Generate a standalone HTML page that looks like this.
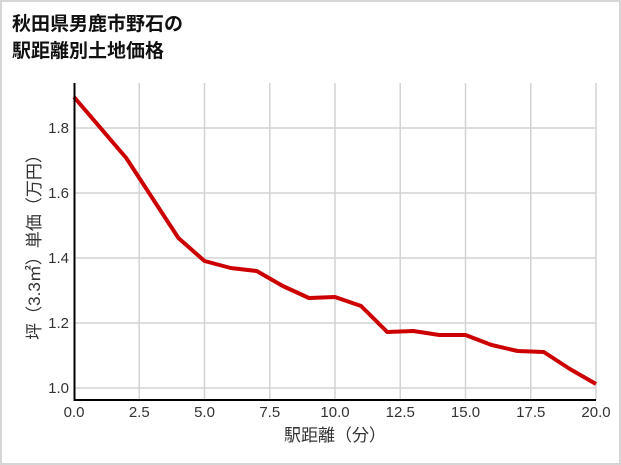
<!DOCTYPE html>
<html><head><meta charset="utf-8"><style>
body{margin:0;background:#fff}
svg{display:block}
text{font-family:"Liberation Sans","Noto Sans CJK JP",sans-serif}
</style></head><body>
<svg width="621" height="465" viewBox="0 0 621 465" xmlns="http://www.w3.org/2000/svg">
<rect x="1" y="1" width="619" height="463" fill="#fff" stroke="#d6d6d6" stroke-width="2"/>
<text x="12" y="30" font-size="19" font-weight="bold" fill="#111">秋田県男鹿市野石の</text>
<text x="12" y="57" font-size="19" font-weight="bold" fill="#111">駅距離別土地価格</text>
<g stroke="#d3d3d3" stroke-width="1.5">
<line x1="139.25" y1="83" x2="139.25" y2="400"/>
<line x1="204.5" y1="83" x2="204.5" y2="400"/>
<line x1="269.75" y1="83" x2="269.75" y2="400"/>
<line x1="335" y1="83" x2="335" y2="400"/>
<line x1="400.25" y1="83" x2="400.25" y2="400"/>
<line x1="465.5" y1="83" x2="465.5" y2="400"/>
<line x1="530.75" y1="83" x2="530.75" y2="400"/>
<line x1="596" y1="83" x2="596" y2="400"/>
<line x1="74" y1="128" x2="596" y2="128"/>
<line x1="74" y1="193" x2="596" y2="193"/>
<line x1="74" y1="258" x2="596" y2="258"/>
<line x1="74" y1="323" x2="596" y2="323"/>
<line x1="74" y1="388" x2="596" y2="388"/>
</g>
<polyline fill="none" stroke="#cc0000" stroke-width="4" stroke-linejoin="round" points="74,97 126.2,158 178.4,238 204.5,261 230.6,268 256.7,271 282.8,286 308.9,298 335,297 361.1,306 387.2,332 413.3,331 439.4,335 465.5,335 491.6,345 517.7,351 543.8,352 569.9,369 596,384"/>
<line x1="74.5" y1="83" x2="74.5" y2="401" stroke="#000" stroke-width="2"/>
<line x1="73.5" y1="400" x2="596" y2="400" stroke="#000" stroke-width="2"/>
<g font-size="15" fill="#333" text-anchor="end">
<text x="69" y="133">1.8</text>
<text x="69" y="198">1.6</text>
<text x="69" y="263">1.4</text>
<text x="69" y="328">1.2</text>
<text x="69" y="393">1.0</text>
</g>
<g font-size="15" fill="#333" text-anchor="middle">
<text x="74" y="417">0.0</text>
<text x="139.25" y="417">2.5</text>
<text x="204.5" y="417">5.0</text>
<text x="269.75" y="417">7.5</text>
<text x="335" y="417">10.0</text>
<text x="400.25" y="417">12.5</text>
<text x="465.5" y="417">15.0</text>
<text x="530.75" y="417">17.5</text>
<text x="596" y="417">20.0</text>
<text x="335" y="441" font-size="17">駅距離（分）</text>
<text transform="translate(40,243) rotate(-90)" font-size="17">坪（3.3㎡）単価（万円）</text>
</g>
</svg>
</body></html>
